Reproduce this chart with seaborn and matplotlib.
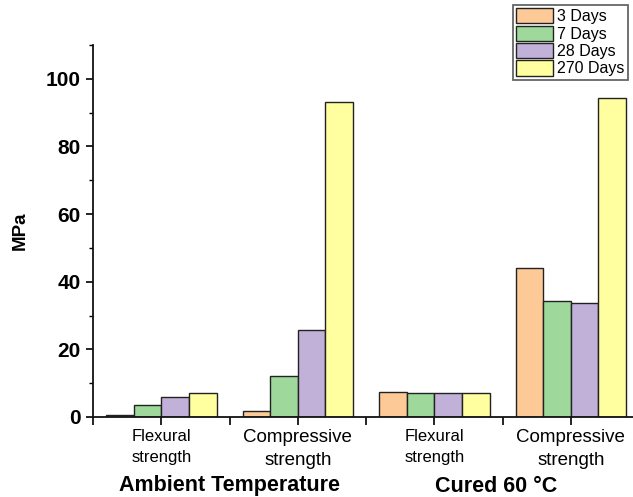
import pandas as pd
import seaborn as sns
import matplotlib.pyplot as plt
from matplotlib.ticker import MultipleLocator, FixedLocator
import matplotlib.transforms as mtransforms

# data
GROUPS = ["Amb. Flexural", "Amb. Compressive", "Cured Flexural", "Cured Compressive"]
TICK_LABELS = ["Flexural\nstrength", "Compressive\nstrength", "Flexural\nstrength", "Compressive\nstrength"]
AGES = ["3 Days", "7 Days", "28 Days", "270 Days"]
DAYS_3 = [0.6, 1.8, 7.35, 44.2]
DAYS_7 = [3.5, 12.0, 7.05, 34.3]
DAYS_28 = [6.05, 25.7, 7.05, 33.7]
DAYS_270 = [6.95, 93.0, 7.15, 94.3]
COLORS = ["#FDC997", "#9ED99B", "#C1B1D8", "#FFFF9F"]
SECTION_LABELS = ["Ambient Temperature", "Cured 60 °C"]
SECTION_X = [0.5, 2.45]

rows = []
for age, vals in zip(AGES, [DAYS_3, DAYS_7, DAYS_28, DAYS_270]):
    for g, v in zip(GROUPS, vals):
        rows.append({"group": g, "age": age, "MPa": v})
df = pd.DataFrame(rows)

sns.set_style("ticks")
plt.rcParams['font.family'] = ['Liberation Sans', 'DejaVu Sans']
plt.rcParams['text.color'] = 'black'
plt.rcParams['axes.labelcolor'] = 'black'
plt.rcParams['xtick.color'] = 'black'
plt.rcParams['ytick.color'] = 'black'

fig = plt.figure(figsize=(6.33, 4.97), dpi=100)
ax = fig.add_axes([0.147, 0.161, 0.8626, 0.7485])

sns.barplot(data=df, x="group", y="MPa", hue="age", order=GROUPS, hue_order=AGES,
            palette=COLORS, saturation=1, edgecolor="#222222", linewidth=1.0,
            width=0.81, errorbar=None, ax=ax)

ax.set_xlim(-0.5, 3.5)
ax.set_ylim(0, 110)
sns.despine(ax=ax)
for s in ["left", "bottom"]:
    ax.spines[s].set_linewidth(1.3)
    ax.spines[s].set_color("#111111")

ax.yaxis.set_major_locator(MultipleLocator(20))
ax.yaxis.set_minor_locator(MultipleLocator(10))
ax.tick_params(axis="y", which="major", length=5, width=1.2, labelsize=15, pad=4)
ax.tick_params(axis="y", which="minor", length=3, width=1.0)
for lab in ax.get_yticklabels():
    lab.set_fontweight("bold")

ax.xaxis.set_minor_locator(FixedLocator([-0.5, 0.5, 1.5, 2.5, 3.5]))
ax.tick_params(axis="x", which="both", length=6, width=1.2, direction="out")
ax.set_xticks(range(len(GROUPS)))
ax.set_xticklabels(TICK_LABELS, linespacing=1.45)
for lab, txt in zip(ax.get_xticklabels(), TICK_LABELS):
    lab.set_fontsize(13.5 if txt.startswith("Compressive") else 12)
ax.tick_params(axis="x", pad=3)

ax.set_xlabel("")
ax.set_ylabel("MPa", fontsize=13.5, fontweight="bold", labelpad=12)

trans = mtransforms.blended_transform_factory(ax.transData, fig.transFigure)
for x, txt in zip(SECTION_X, SECTION_LABELS):
    ax.text(x, 1 - 486 / 497, txt, transform=trans, ha="center", va="center",
            fontsize=15.5, fontweight="bold")

handles, labels = ax.get_legend_handles_labels()
ax.legend(handles, labels, loc="upper right", bbox_to_anchor=(0.992, 0.99),
          bbox_transform=fig.transFigure, fontsize=11.5, frameon=True, fancybox=False,
          edgecolor="#666666", framealpha=1, handlelength=2.3, handleheight=1.1,
          labelspacing=0.08, borderpad=0.2, handletextpad=0.3, borderaxespad=0)
ax.get_legend().get_frame().set_linewidth(1.3)

fig.savefig("out.png", dpi=100)
